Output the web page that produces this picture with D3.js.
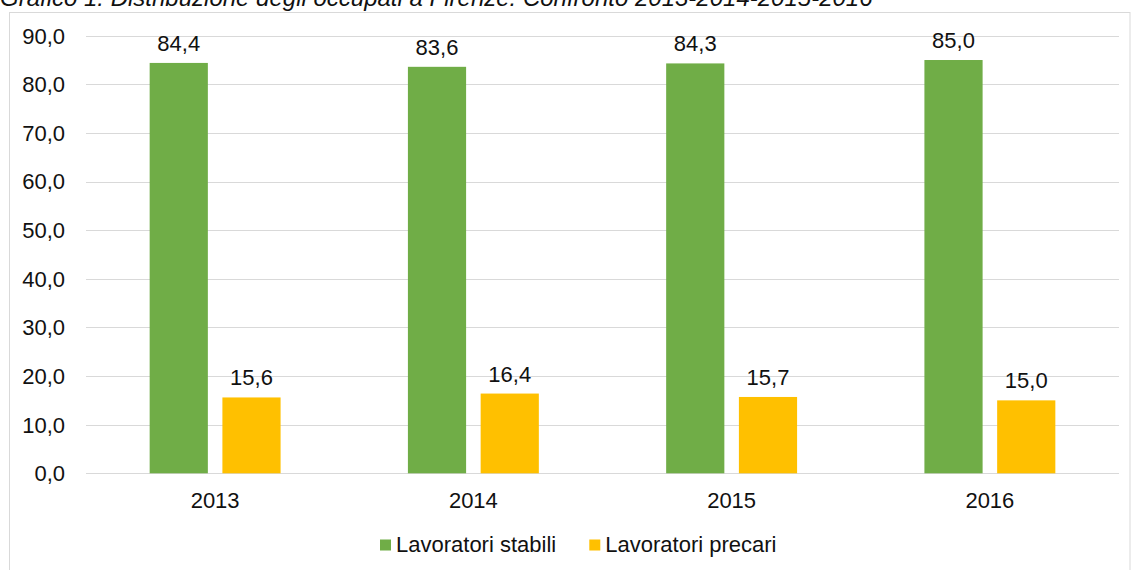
<!DOCTYPE html>
<html>
<head>
<meta charset="utf-8">
<script src="https://cdn.jsdelivr.net/npm/d3@7"></script>
<style>
  html, body { margin: 0; padding: 0; background: #fff; overflow: hidden; }
  svg { display: block; }
  text { font-family: "Liberation Sans", Arial, sans-serif; fill: #111; }
</style>
</head>
<body>
<svg id="chart" width="1131" height="570"></svg>
<script>
const titleText = "Grafico 1: Distribuzione degli occupati a Firenze. Confronto 2013-2014-2015-2016";
const years = ["2013", "2014", "2015", "2016"];
const seriesNames = ["Lavoratori stabili", "Lavoratori precari"];
const stabili = [84.4, 83.6, 84.3, 85.0];
const precari = [15.6, 16.4, 15.7, 15.0];
const yTicks = [0, 10, 20, 30, 40, 50, 60, 70, 80, 90];
const colors = ["#70AD47", "#FFC000"];

const seriesValues = [stabili, precari];
const fmt = v => v.toFixed(1).replace(".", ",");

const svg = d3.select("#chart");

// chart border
svg.append("rect")
  .attr("x", 9.5).attr("y", 12.5)
  .attr("width", 1130 - 9.5).attr("height", 570)
  .attr("fill", "none").attr("stroke", "#d9d9d9").attr("stroke-width", 1);

// title (clipped at top as in the reference)
svg.append("text")
  .attr("x", 0).attr("y", 6)
  .attr("font-size", 24).attr("font-style", "italic")
  .text(titleText);

const plotLeft = 86, plotRight = 1119, plotTop = 35.7, plotBottom = 473.3;

const y = d3.scaleLinear().domain([0, 90]).range([plotBottom, plotTop]);
const x0 = d3.scaleBand().domain(years).range([plotLeft, plotRight])
  .paddingInner(0.493).paddingOuter(0.2465);
const x1 = d3.scaleBand().domain(seriesNames).range([0, x0.bandwidth()])
  .paddingInner(0.2).paddingOuter(0);

// gridlines
svg.append("g").selectAll("line").data(yTicks).join("line")
  .attr("x1", plotLeft).attr("x2", plotRight)
  .attr("y1", d => Math.round(y(d)) + 0.5).attr("y2", d => Math.round(y(d)) + 0.5)
  .attr("stroke", "#d9d9d9").attr("stroke-width", 1);

// y tick labels
svg.append("g").selectAll("text").data(yTicks).join("text")
  .attr("x", 65).attr("y", d => y(d) + 7.9)
  .attr("text-anchor", "end").attr("font-size", 22)
  .text(d => fmt(d));

// bars
const rows = years.map((yr, i) => ({ yr, vals: seriesNames.map((s, j) => ({ s, j, v: seriesValues[j][i] })) }));
const groups = svg.append("g").selectAll("g").data(rows).join("g")
  .attr("transform", d => `translate(${x0(d.yr)},0)`);

groups.selectAll("rect").data(d => d.vals).join("rect")
  .attr("x", d => x1(d.s)).attr("width", x1.bandwidth())
  .attr("y", d => y(d.v)).attr("height", d => y(0) - y(d.v))
  .attr("fill", d => colors[d.j]);

groups.selectAll("text").data(d => d.vals).join("text")
  .attr("x", d => x1(d.s) + x1.bandwidth() / 2)
  .attr("y", d => y(d.v) - 12)
  .attr("text-anchor", "middle").attr("font-size", 22)
  .text(d => fmt(d.v));

// x axis labels
svg.append("g").selectAll("text").data(years).join("text")
  .attr("x", d => x0(d) + x0.bandwidth() / 2).attr("y", 507.5)
  .attr("text-anchor", "middle").attr("font-size", 22)
  .text(d => d);

// legend
const legendX = [380, 589.3];
const lg = svg.append("g").selectAll("g").data(seriesNames).join("g")
  .attr("transform", (d, i) => `translate(${legendX[i]},0)`);
lg.append("rect").attr("x", 0).attr("y", 539.5).attr("width", 11).attr("height", 11)
  .attr("fill", (d, i) => colors[i]);
lg.append("text").attr("x", 16).attr("y", 552).attr("font-size", 22).text(d => d);
</script>
</body>
</html>
